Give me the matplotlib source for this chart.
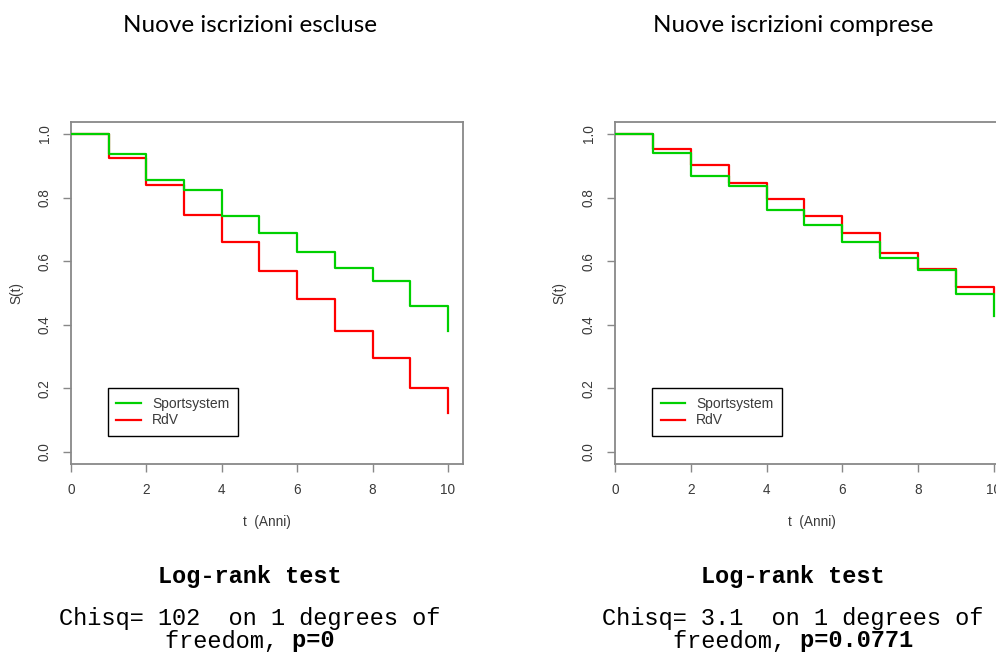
import matplotlib
matplotlib.use("Agg")
import matplotlib.pyplot as plt

# ---- data ----
years = [0, 1, 2, 3, 4, 5, 6, 7, 8, 9, 10]
excl_sport = [1.0, 0.937, 0.857, 0.823, 0.741, 0.688, 0.630, 0.580, 0.537, 0.459, 0.381]
excl_rdv = [1.0, 0.924, 0.839, 0.746, 0.661, 0.569, 0.482, 0.380, 0.297, 0.200, 0.124]
incl_sport = [1.0, 0.942, 0.868, 0.837, 0.761, 0.713, 0.659, 0.611, 0.572, 0.498, 0.428]
incl_rdv = [1.0, 0.952, 0.903, 0.846, 0.796, 0.741, 0.688, 0.625, 0.576, 0.518, 0.500]

titles = ["Nuove iscrizioni escluse", "Nuove iscrizioni comprese"]
chisq = ["102", "3.1"]
pvals = ["0", "0.0771"]
xticks = [0, 2, 4, 6, 8, 10]
yticks = [0.0, 0.2, 0.4, 0.6, 0.8, 1.0]

GREEN = "#00d000"; RED = "#ff0000"; GRAY = "#888888"; TXT = "#3a3a3a"
SANS = "Liberation Sans"; MONO = "Liberation Mono"

W, H = 996, 657
fig = plt.figure(figsize=(W/100, H/100), dpi=100)

def px_axes(x0, y0, x1, y1):
    return fig.add_axes([x0/W, 1 - y1/H, (x1-x0)/W, (y1-y0)/H])

panels = [
    (px_axes(71, 122, 463, 464), excl_sport, excl_rdv),
    (px_axes(615, 122, 1009, 464), incl_sport, incl_rdv),
]

for ax, sport, rdv in panels:
    ax.step(years, rdv, where="post", color=RED, lw=1.6, label="RdV", zorder=2)
    ax.step(years, sport, where="post", color=GREEN, lw=1.6, label="Sportsystem", zorder=3)
    ax.set_xlim(0, 10.4); ax.set_ylim(-0.038, 1.038)
    ax.set_xticks(xticks); ax.set_yticks(yticks)
    ax.set_xticklabels([str(t) for t in xticks], fontfamily=SANS, fontsize=9.8, color=TXT)
    ax.set_yticklabels([f"{t:.1f}" for t in yticks], fontfamily=SANS, fontsize=9.8,
                       color=TXT, rotation=90, va="center")
    ax.tick_params(direction="out", length=6, width=1, color=GRAY, pad=8)
    for s in ax.spines.values():
        s.set_color(GRAY); s.set_linewidth(1.3)
    ax.set_xlabel("t  (Anni)", fontfamily=SANS, fontsize=9.8, color=TXT, va="center")
    ax.xaxis.set_label_coords(0.5, -(522 - 464) / 342)
    ax.set_ylabel("S(t)", fontfamily=SANS, fontsize=9.8, color=TXT, va="center", ha="center")
    ax.yaxis.set_label_coords(-(71 - 16) / 392, 0.5)
    h, l = ax.get_legend_handles_labels()
    leg = ax.legend(h[::-1], l[::-1], loc="upper left", bbox_to_anchor=(0.094, 0.222),
                    borderaxespad=0, fancybox=False, edgecolor="black", framealpha=1,
                    prop={"family": SANS, "size": 10}, handlelength=1.75,
                    handletextpad=0.8, labelspacing=0.2, borderpad=0.62)
    leg.get_frame().set_linewidth(1.0)
    for t in leg.get_texts():
        t.set_color(TXT)

# titles and log-rank captions
for cx, title, chi, p in zip([250, 793], titles, chisq, pvals):
    fig.text(cx/W, 1 - 25/H, title, ha="center", va="center", fontfamily="Lato", fontsize=17.5)
    fig.text(cx/W, 1 - 577/H, "Log-rank test", ha="center", va="center",
             fontfamily=MONO, fontsize=17, fontweight="bold")
    fig.text(cx/W, 1 - 618/H, f"Chisq= {chi}  on 1 degrees of", ha="center", va="center",
             fontfamily=MONO, fontsize=17)
    pstr = f"p={p}"
    fig.text(cx/W, 1 - 641/H, "freedom, " + " " * len(pstr), ha="center", va="center",
             fontfamily=MONO, fontsize=17)
    fig.text(cx/W, 1 - 641/H, " " * len("freedom, ") + pstr, ha="center", va="center",
             fontfamily=MONO, fontsize=17, fontweight="bold")

fig.savefig("out.png", dpi=100)
